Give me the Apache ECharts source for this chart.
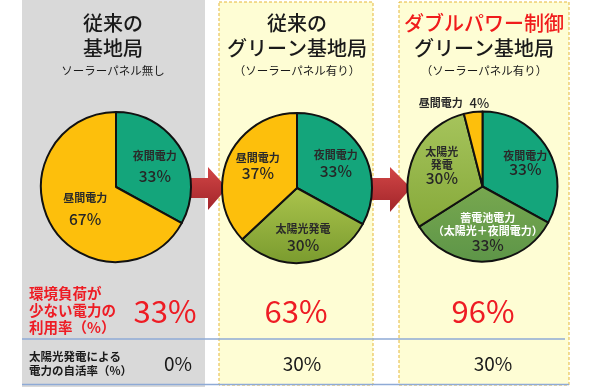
<!DOCTYPE html>
<html><head><meta charset="utf-8">
<script src="https://cdn.jsdelivr.net/npm/echarts@6/dist/echarts.min.js"></script>
<style>html,body{margin:0;padding:0;background:#fff}#c{width:595px;height:387px}</style>
</head><body><div id="c"></div>
<script>
// ---- data ----
const panelTitles = [['従来の', '基地局'], ['従来の', 'グリーン基地局'], ['ダブルパワー制御', 'グリーン基地局']];
const panelSubtitles = ['ソーラーパネル無し', '（ソーラーパネル有り）', '（ソーラーパネル有り）'];
const pie1Names = ['夜間電力', '昼間電力'];
const pie1Values = [33, 67];
const pie2Names = ['夜間電力', '太陽光発電', '昼間電力'];
const pie2Values = [33, 30, 37];
const pie3Names = ['夜間電力', '蓄電池電力\n（太陽光＋夜間電力）', '太陽光\n発電', '昼間電力'];
const pie3Values = [33, 33, 30, 4];
const utilizationLabel = '環境負荷が\n少ない電力の\n利用率（%）';
const utilizationRates = [33, 63, 96];
const selfRateLabel = '太陽光発電による\n電力の自活率（%）';
const selfRates = [0, 30, 30];

// ---- styles ----
const FONT = '"Noto Sans CJK JP", "Noto Sans", sans-serif';
const GREEN = '#14a57b';
const YELLOW = '#fdbf0c';
function vgrad(a, b) { return new echarts.graphic.LinearGradient(0, 0, 0, 1, [{offset: 0, color: a}, {offset: 1, color: b}]); }
const OLIVE = vgrad('#abc44d', '#7a9b2e');
const SOLAR3 = vgrad('#a6c45c', '#86a93a');
const BATTERY = vgrad('#78a84f', '#5d9548');

const chart = echarts.init(document.getElementById('c'), null, {renderer: 'canvas'});

function makeRich(lh, vfs) {
  return {
    n: {fontSize: 11, fontFamily: FONT, color: '#2a2a2a', lineHeight: lh, fontWeight: 'bold'},
    w: {fontSize: 11, fontFamily: FONT, color: '#ffffff', lineHeight: lh, fontWeight: 'bold'},
    v: {fontSize: vfs, fontFamily: FONT, color: '#262626', lineHeight: lh + 2, fontWeight: 500},
    s: {fontSize: 13, fontFamily: FONT, color: '#262626', fontWeight: 500}
  };
}

function pieSeries(names, values, colors, center, offsets, lh, opts) {
  opts = opts || {};
  return {
    type: 'pie',
    z: 5,
    radius: 75,
    center: center,
    startAngle: 90,
    clockwise: true,
    avoidLabelOverlap: false,
    animation: false,
    itemStyle: {borderColor: '#111', borderWidth: 2},
    label: {
      show: true,
      position: 'inside',
      formatter: function (p) {
        if (opts.outsideIndex === p.dataIndex) {
          return '{n|' + p.name + '}  {s|' + p.value + '%}';
        }
        const st = (opts.whiteIndex === p.dataIndex) ? 'w' : 'n';
        return p.name.split('\n').map(s => '{' + st + '|' + s + '}').join('\n') + '\n{v|' + p.value + '%}';
      },
      rich: makeRich(lh, 15.5)
    },
    labelLine: {show: false},
    labelLayout: function (params) {
      const o = offsets[params.dataIndex];
      if (o.length === 3) return {x: o[0], y: o[1], align: 'center', verticalAlign: 'middle'};
      return {dx: o[0], dy: o[1]};
    },
    emphasis: {disabled: true},
    data: names.map((n, i) => {
      const d = {name: n, value: values[i], itemStyle: {color: colors[i]}};
      if (opts.outsideIndex === i) d.label = {position: 'outside'};
      return d;
    })
  };
}

const panelCenters = [113, 297, 484];
const elements = [];
// backgrounds
elements.push({type: 'rect', z: 0, shape: {x: 22, y: 0, width: 183, height: 387}, style: {fill: '#d9d9d9'}});
elements.push({type: 'rect', z: 0, shape: {x: 219, y: 2, width: 154, height: 383}, style: {fill: '#fefdd4', stroke: '#e5b73b', lineWidth: 1, lineDash: [3, 2]}});
elements.push({type: 'rect', z: 0, shape: {x: 399, y: 2, width: 170, height: 383}, style: {fill: '#fefdd4', stroke: '#e5b73b', lineWidth: 1, lineDash: [3, 2]}});
// blue rule lines
elements.push({type: 'line', z: 1, shape: {x1: 22, y1: 339, x2: 565, y2: 339}, style: {stroke: '#8eaad6', lineWidth: 1.5}});
elements.push({type: 'line', z: 1, shape: {x1: 22, y1: 384.5, x2: 569, y2: 384.5}, style: {stroke: '#8eaad6', lineWidth: 1.5}});
// arrows
const arrowFill = vgrad('#d24646', '#a2252a');
elements.push({type: 'polygon', z: 2, shape: {points: [[182, 178], [208, 178], [208, 167], [227, 188], [208, 210], [208, 198], [182, 198]]}, style: {fill: arrowFill}});
elements.push({type: 'polygon', z: 2, shape: {points: [[362, 178], [390, 178], [390, 167], [411, 188], [390, 212], [390, 200], [362, 200]]}, style: {fill: arrowFill}});
// titles
panelTitles.forEach((t, i) => {
  elements.push({type: 'text', z: 10, x: panelCenters[i], y: 23, style: {text: t[0], fill: i === 2 ? '#f01c1c' : '#1a1a1a', fontSize: 20, fontWeight: 500, fontFamily: FONT, align: 'center', verticalAlign: 'middle'}});
  elements.push({type: 'text', z: 10, x: panelCenters[i], y: 48, style: {text: t[1], fill: '#1a1a1a', fontSize: 20, fontWeight: 500, fontFamily: FONT, align: 'center', verticalAlign: 'middle'}});
  elements.push({type: 'text', z: 10, x: panelCenters[i], y: 71, style: {text: panelSubtitles[i], fill: '#1a1a1a', fontSize: 11.5, fontFamily: FONT, align: 'center', verticalAlign: 'middle'}});
});
// row labels
elements.push({type: 'text', z: 10, x: 29, y: 310, style: {text: utilizationLabel, fill: '#ee1c24', fontSize: 14.5, fontWeight: 'bold', lineHeight: 17, fontFamily: FONT, align: 'left', verticalAlign: 'middle'}});
elements.push({type: 'text', z: 10, x: 29, y: 363.5, style: {text: selfRateLabel, fill: '#1a1a1a', fontSize: 11.5, fontWeight: 'bold', lineHeight: 13.5, fontFamily: FONT, align: 'left', verticalAlign: 'middle'}});
const row1X = [165, 296, 483];
const row2X = [178, 302, 493];
utilizationRates.forEach((v, i) => {
  elements.push({type: 'text', z: 10, x: row1X[i], y: 311, style: {text: v + '%', fill: '#ee1c24', fontSize: 31, fontFamily: FONT, align: 'center', verticalAlign: 'middle'}});
});
selfRates.forEach((v, i) => {
  elements.push({type: 'text', z: 10, x: row2X[i], y: 364, style: {text: v + '%', fill: '#1a1a1a', fontSize: 19, fontFamily: FONT, align: 'center', verticalAlign: 'middle'}});
});

const option = {
  animation: false,
  backgroundColor: '#ffffff',
  graphic: {elements: elements},
  series: [
    pieSeries(pie1Names, pie1Values, [GREEN, YELLOW], [116, 187], [[4, 0], [4, 1]], 20),
    pieSeries(pie2Names, pie2Values, [GREEN, OLIVE, YELLOW], [297, 188], [[4, -4], [1, 9], [-2, -6]], 15),
    pieSeries(pie3Names, pie3Values, [GREEN, BATTERY, SOLAR3, YELLOW], [482.5, 186.5], [[8, -3], [4, 5], [-3, -6], [454, 103, 0]], 13, {whiteIndex: 1, outsideIndex: 3})
  ]
};
chart.setOption(option);
</script>
</body></html>
